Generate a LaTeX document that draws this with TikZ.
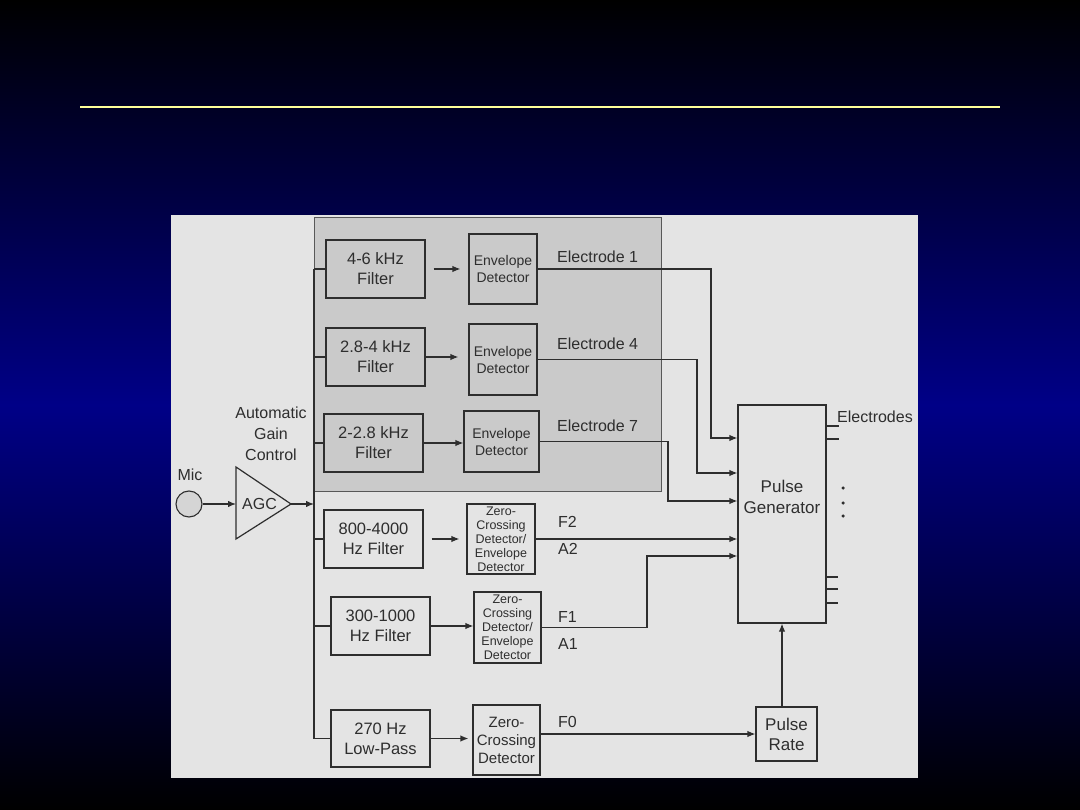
\documentclass[tikz,border=0pt]{standalone}
\usepackage{fontspec}
\setmainfont{Liberation Sans}
\usetikzlibrary{arrows.meta,calc}
\definecolor{ink}{HTML}{2E2E2E}
\definecolor{panel}{HTML}{E4E4E4}
\definecolor{grp}{HTML}{CACACA}
\definecolor{navy}{RGB}{0,0,135}
\definecolor{pale}{HTML}{FFFF99}
\begin{document}
\begin{tikzpicture}[x=1pt,y=-1pt,
  line/.style={draw=ink,line width=1.2pt},
  arr/.style={line,-{Latex[length=8pt,width=6.5pt]}},
  fbox/.style={draw=ink,line width=1.2pt,text=ink,inner sep=0pt,align=center,
    minimum width=99pt,minimum height=58pt,font=\fontsize{16.5}{20}\selectfont},
  dbox/.style={draw=ink,line width=1.2pt,text=ink,inner sep=0pt,align=center,
    font=\fontsize{14}{17}\selectfont},
  zbox/.style={draw=ink,line width=1.2pt,text=ink,inner sep=0pt,align=center,
    font=\fontsize{12.5}{14}\selectfont},
  lbl/.style={text=ink,inner sep=0pt,anchor=west,font=\fontsize{16}{19}\selectfont},
  dot/.style={circle,fill=ink,inner sep=0pt,minimum size=3.5pt}]
\useasboundingbox (0,0) rectangle (1080,810);
% background
\fill[top color=black,bottom color=black,middle color=navy] (0,0) rectangle (1080,810);
\draw[pale,line width=2pt] (80,107) -- (1000,107);
% panel
\fill[panel] (171,215) rectangle (918,778);
% group box
\filldraw[fill=grp,draw=ink!80,line width=1pt] (314,218) rectangle (661,491);

% filters
\node[fbox] (f1) at (375.5,269) {4-6 kHz\\Filter};
\node[fbox] (f2) at (375.5,357) {2.8-4 kHz\\Filter};
\node[fbox] (f3) at (373.5,443) {2-2.8 kHz\\Filter};
\node[fbox] (f4) at (373.5,539) {800-4000\\Hz Filter};
\node[fbox] (f5) at (380.5,626) {300-1000\\Hz Filter};
\node[fbox,minimum height=57pt] (f6) at (380.5,738.5) {270 Hz\\Low-Pass};

% bus
\coordinate (busTop) at (314,269);
\coordinate (busMid) at (314,504);
\draw[line] (busTop) -- (busTop |- f6.west);

% detectors
\node[dbox,minimum width=68pt,minimum height=70pt] (e1) at (503,269) {Envelope\\Detector};
\node[dbox,minimum width=68pt,minimum height=71pt] (e2) at (503,359.5) {Envelope\\Detector};
\node[dbox,minimum width=75pt,minimum height=61pt] (e3) at (501.5,441.5) {Envelope\\Detector};
\node[zbox,minimum width=68pt,minimum height=70pt] (z1) at (501,539) {Zero-\\Crossing\\Detector/\\Envelope\\Detector};
\node[zbox,minimum width=67pt,minimum height=71pt] (z2) at (507.5,627.5) {Zero-\\Crossing\\Detector/\\Envelope\\Detector};
\node[dbox,minimum width=67pt,minimum height=70pt,font=\fontsize{15}{18}\selectfont] (z3) at (506.5,740) {Zero-\\Crossing\\Detector};

% pulse generator and pulse rate
\node[draw=ink,line width=1.2pt,minimum width=88pt,minimum height=218pt,inner sep=0pt] (pg) at (782,514) {};
\node[text=ink,align=center,font=\fontsize{17}{21}\selectfont] (pgt) at (782,497) {Pulse\\Generator};
\node[dbox,minimum width=61pt,minimum height=54pt,font=\fontsize{17}{20}\selectfont] (pr) at (786.5,734) {Pulse\\Rate};

% mic and AGC
\node[circle,draw=ink,fill=grp!80,line width=1.1pt,minimum size=26pt,inner sep=0pt] (mic) at (189,504) {};
\node[text=ink,font=\fontsize{16}{19}\selectfont] (micl) at (190,475) {Mic};
\coordinate (agcIn) at (236,504);
\coordinate (agcOut) at (291,504);
\draw[line,line join=miter] (236,467) -- (agcOut) -- (236,539) -- cycle;
\node[text=ink,font=\fontsize{16}{19}\selectfont] (agc) at (259.5,504) {AGC};
\node[text=ink,align=center,font=\fontsize{16}{21}\selectfont] (agct) at (271,434) {Automatic\\Gain\\Control};
\draw[arr] (mic.east) -- (agcIn);
\draw[arr] (agcOut) -- (busMid);

% stubs from bus
\foreach \f in {f1,f2,f3,f4,f5,f6} \draw[line] (\f.west -| busTop) -- (\f.west);

% filter -> detector
\draw[arr] ($(f1.east)+(8,0)$) -- ($(e1.west)+(-8,0)$);
\draw[arr] (f2.east) -- ($(f2.east -| e2.west)+(-10,0)$);
\draw[arr] (f3.east) -- (f3.east -| e3.west);
\draw[arr] ($(f4.east)+(8,0)$) -- ($(z1.west)+(-7,0)$);
\draw[arr] (f5.east) -- (f5.east -| z2.west);
\draw[arr] (f6.east) -- ($(f6.east -| z3.west)+(-4,0)$);

% detector -> pulse generator
\draw[arr] (e1.east) -| (711,438) -- (pg.west |- 711,438);
\draw[arr] (e2.east) -| (697,473) -- (pg.west |- 697,473);
\draw[arr] (e3.east) -| (668,501) -- (pg.west |- 668,501);
\draw[arr] (z1.east) -- (pg.west |- z1.east);
\draw[arr] (z2.east) -| (647,556) -- (pg.west |- 647,556);
\draw[arr] (z3.east |- pr.west) -- (pr.west);
\draw[arr] (pg.south |- pr.north) -- (pg.south);

% labels
\node[lbl] (l1) at (557,257) {Electrode 1};
\node[lbl] (l4) at (557,344) {Electrode 4};
\node[lbl] (l7) at (557,426) {Electrode 7};
\node[lbl] (lf2) at (558,522) {F2};
\node[lbl] (la2) at (558,549) {A2};
\node[lbl] (lf1) at (558,617) {F1};
\node[lbl] (la1) at (558,644) {A1};
\node[lbl] (lf0) at (558,722) {F0};
\node[lbl] (lel) at (837,417) {Electrodes};

% output stubs
\foreach \y in {426,439} \draw[line] (pg.east |- 0,\y) -- (839,\y);
\foreach \y in {577,589,603} \draw[line] (pg.east |- 0,\y) -- (838,\y);
\node[dot] (d1) at (843,488) {};
\node[dot] (d2) at (843,503) {};
\node[dot] (d3) at (843,516) {};
\end{tikzpicture}
\end{document}
